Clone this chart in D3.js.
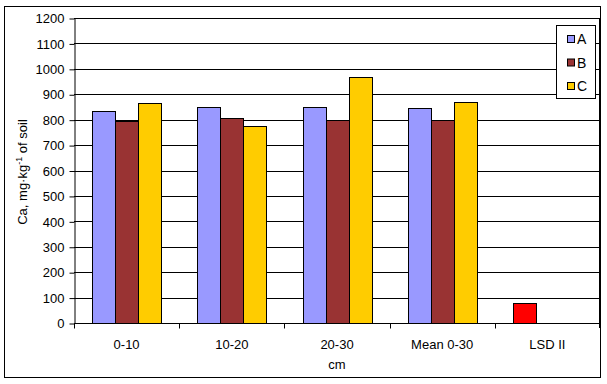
<!DOCTYPE html>
<html>
<head>
<meta charset="utf-8">
<script src="https://cdn.jsdelivr.net/npm/d3@7/dist/d3.min.js"></script>
<style>
  body { margin: 0; background: #fff; }
  text { font-family: "Liberation Sans", Arial, sans-serif; fill: #000; }
</style>
</head>
<body>
<svg id="chart" width="607" height="384"></svg>
<script>
// data
var categories = ["0-10", "10-20", "20-30", "Mean 0-30", "LSD II"];
var seriesNames = ["A", "B", "C"];
var valuesA = [834, 849, 849, 844, null];
var valuesB = [793, 805, 797, 797, null];
var valuesC = [864, 775, 967, 868, null];
var lsdValues = [null, null, null, null, 78];
var yTicks = [0, 100, 200, 300, 400, 500, 600, 700, 800, 900, 1000, 1100, 1200];

var colors = { A: "#9999FF", B: "#993333", C: "#FFCC00", LSD: "#FF0000" };

var svg = d3.select("#chart");
var plotLeft = 74, plotRight = 600, plotTop = 18, plotBottom = 323;

// outer frame
svg.append("rect")
  .attr("x", 4.5).attr("y", 6.5)
  .attr("width", 596).attr("height", 371)
  .attr("fill", "#fff").attr("stroke", "#000").attr("stroke-width", 1);

var x = d3.scaleBand().domain(categories).range([plotLeft, plotRight]);
var y = d3.scaleLinear().domain([0, 1200]).range([plotBottom, plotTop]);

// gridlines
svg.append("g").selectAll("line")
  .data(yTicks.slice(1))
  .enter().append("line")
    .attr("x1", plotLeft).attr("x2", plotRight)
    .attr("y1", function(d) { return Math.round(y(d)) + 0.5; })
    .attr("y2", function(d) { return Math.round(y(d)) + 0.5; })
    .attr("stroke", "#000");

// bars
var barW = 23;
var groupPad = (x.bandwidth() - barW * 3) / 2;
var sub = d3.scaleBand().domain(seriesNames).range([0, barW * 3]);
var seriesData = [valuesA, valuesB, valuesC];

var bars = [];
seriesNames.forEach(function(s, i) {
  seriesData[i].forEach(function(v, j) {
    if (v != null) bars.push({ cat: categories[j], s: s, val: v });
  });
});

svg.append("g").selectAll("rect")
  .data(bars)
  .enter().append("rect")
    .attr("x", function(d) { return Math.round(x(d.cat) + groupPad + sub(d.s)) + 0.5; })
    .attr("y", function(d) { return Math.round(y(d.val)) + 0.5; })
    .attr("width", sub.bandwidth())
    .attr("height", function(d) { return Math.round(y(0)) - Math.round(y(d.val)); })
    .style("fill", function(d) { return colors[d.s]; })
    .attr("stroke", "#000");

// LSD bar sits in the first slot of its group
svg.append("g").selectAll("rect")
  .data(lsdValues.map(function(v, j) { return { cat: categories[j], val: v }; })
    .filter(function(d) { return d.val != null; }))
  .enter().append("rect")
    .attr("x", function(d) { return Math.round(x(d.cat) + groupPad) + 0.5; })
    .attr("y", function(d) { return Math.round(y(d.val)) + 0.5; })
    .attr("width", barW)
    .attr("height", function(d) { return Math.round(y(0)) - Math.round(y(d.val)); })
    .style("fill", colors.LSD)
    .attr("stroke", "#000");

// y axis
var yAxis = svg.append("g")
  .attr("transform", "translate(" + (plotLeft + 0.5) + ",0.5)")
  .call(d3.axisLeft(y).tickValues(yTicks).tickFormat(d3.format("d"))
    .tickSize(5).tickPadding(5).tickSizeOuter(0));
yAxis.select(".domain").attr("stroke", "#000");
yAxis.selectAll("text").style("font-size", "13px").style("font-family", "'Liberation Sans', Arial, sans-serif");

// x axis with ticks between categories
var xAxis = svg.append("g")
  .attr("transform", "translate(0," + (plotBottom + 0.5) + ")");
xAxis.append("line")
  .attr("x1", plotLeft).attr("x2", plotRight)
  .attr("stroke", "#000");
xAxis.selectAll(".tk")
  .data(categories.concat(["end"]))
  .enter().append("line")
    .attr("class", "tk")
    .attr("x1", function(d, i) { return Math.round(plotLeft + i * x.step()) + 0.5; })
    .attr("x2", function(d, i) { return Math.round(plotLeft + i * x.step()) + 0.5; })
    .attr("y1", 0).attr("y2", 5)
    .attr("stroke", "#000");
xAxis.selectAll(".lbl")
  .data(categories)
  .enter().append("text")
    .attr("class", "lbl")
    .attr("x", function(d) { return x(d) + x.bandwidth() / 2; })
    .attr("y", 25)
    .attr("text-anchor", "middle")
    .style("font-size", "13px")
    .text(function(d) { return d; });

// plot right edge
svg.append("line")
  .attr("x1", 600).attr("x2", 600)
  .attr("y1", plotTop).attr("y2", plotBottom + 5)
  .attr("stroke", "#000").attr("stroke-width", 2);

// axis titles
svg.append("text")
  .attr("x", (plotLeft + plotRight) / 2).attr("y", 369)
  .attr("text-anchor", "middle")
  .style("font-size", "13px")
  .text("cm");

var yTitle = svg.append("text")
  .attr("transform", "translate(27,172) rotate(-90)")
  .attr("text-anchor", "middle")
  .style("font-size", "13px");
yTitle.append("tspan").text("Ca, mg·kg");
yTitle.append("tspan").attr("dy", -5).style("font-size", "9px").text("-1");
yTitle.append("tspan").attr("dy", 5).text(" of soil");

// legend
var legend = svg.append("g");
legend.append("rect")
  .attr("x", 556.5).attr("y", 25.5)
  .attr("width", 39).attr("height", 73)
  .attr("fill", "#fff").attr("stroke", "#000");
var item = legend.selectAll(".item")
  .data(seriesNames)
  .enter().append("g")
    .attr("class", "item")
    .attr("transform", function(d, i) { return "translate(567," + (35 + i * 23.5) + ")"; });
item.append("rect")
  .attr("x", 0.5).attr("y", 0.5)
  .attr("width", 7).attr("height", 7)
  .style("fill", function(d) { return colors[d]; })
  .attr("stroke", "#000");
item.append("text")
  .attr("x", 10).attr("y", 9)
  .style("font-size", "14px")
  .text(function(d) { return d; });
</script>
</body>
</html>
